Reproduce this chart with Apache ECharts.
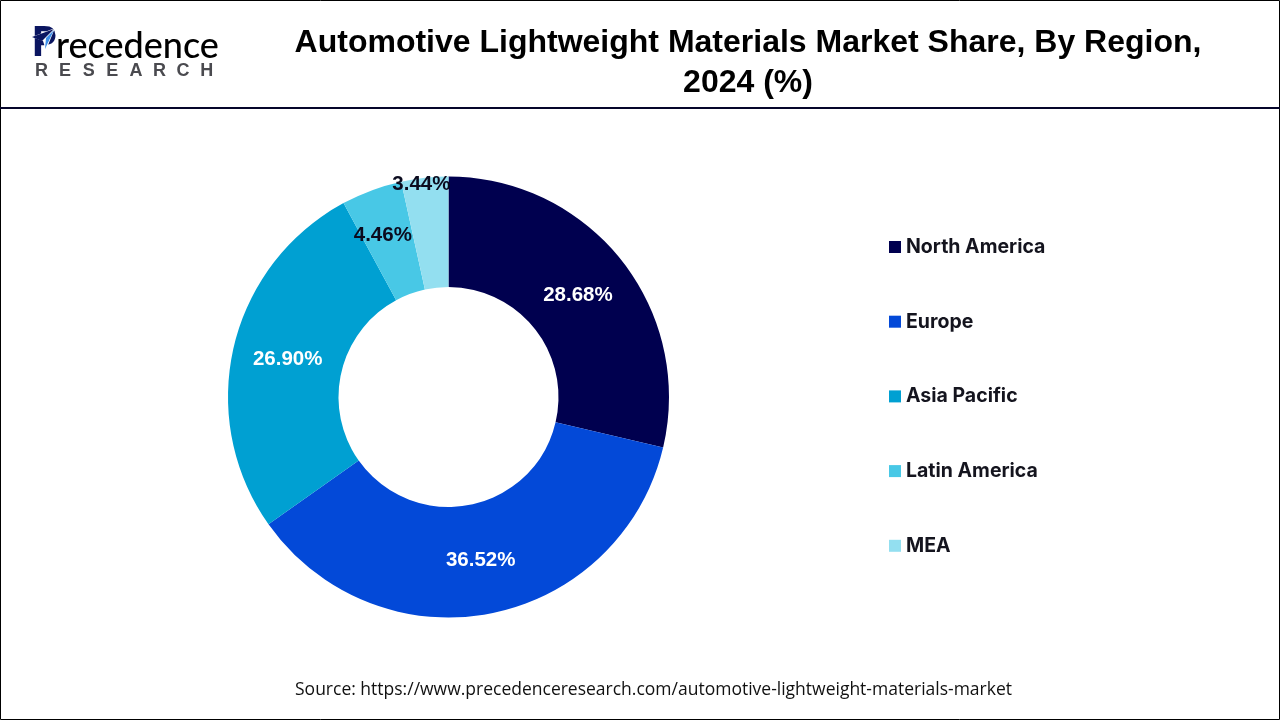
<!DOCTYPE html>
<html>
<head>
<meta charset="utf-8">
<style>
html, body { margin: 0; padding: 0; background: #fff; }
#chart_box { width: 1280px; height: 720px; }
</style>
<script src="https://cdn.jsdelivr.net/npm/echarts@6/dist/echarts.min.js"></script>
</head>
<body>
<div id="chart_box"></div>
<script>
let regions = ['North America', 'Europe', 'Asia Pacific', 'Latin America', 'MEA'];
let shares = [28.68, 36.52, 26.90, 4.46, 3.44];
let colors = ['#00004f', '#0349d8', '#00a0d2', '#48c8e6', '#93dff0'];
let labelColors = ['#fff', '#fff', '#fff', '#0b0b1e', '#0b0b1e'];
// labels sit off the mid radius in the original, the two small slices most of all
let labelOffsets = [[-2.5, 3], [0, -2], [3, 1], [-7, -4], [-9, -45]];

let titleLines = ['Automotive Lightweight Materials Market Share, By Region,', '2024 (%)'];
let sourceText = 'Source: https://www.precedenceresearch.com/automotive-lightweight-materials-market';

let myChart = echarts.init(document.getElementById('chart_box'));

// logo, letters spaced by hand
let logoGraphics = [];
'RESEARCH'.split('').forEach(function(ch, i) {
    logoGraphics.push({
        type: 'text',
        x: 41.5 + i * 23.6,
        y: 71,
        style: {
            text: ch, fill: '#4a4a4f', align: 'center', verticalAlign: 'middle',
            font: 'bold 18px "Liberation Sans"'
        }
    });
});
logoGraphics.push({
    type: 'text',
    x: 31,
    y: 44,
    style: {
        text: 'P', fill: '#0a1560', verticalAlign: 'middle',
        font: 'bold 42px "Open Sans"'
    }
});
logoGraphics.push({
    type: 'text',
    x: 56,
    y: 46,
    style: {
        text: 'recedence', verticalAlign: 'middle',
        font: '500 36px "Lato"',
        fill: new echarts.graphic.LinearGradient(0, 0, 1, 0, [
            {offset: 0, color: '#0a1a6e'},
            {offset: 1, color: '#1a66e0'}
        ])
    }
});
logoGraphics.push({
    type: 'polygon',
    shape: {points: [[32, 37], [55, 28], [46, 50], [43, 41]]},
    style: {fill: '#fff'}
});
logoGraphics.push({
    type: 'polygon',
    shape: {points: [[32, 37], [54, 29], [42, 41]]},
    style: {fill: '#0a1560'}
});
logoGraphics.push({
    type: 'polygon',
    shape: {points: [[54, 30], [46, 38], [45, 49]]},
    style: {fill: '#3d8fe8'}
});

let myOption = {
    animation: false,
    backgroundColor: '#fff',
    color: colors,
    legend: {
        orient: 'vertical',
        left: 884,
        top: 231,
        icon: 'rect',
        itemWidth: 12,
        itemHeight: 12,
        itemGap: 52.7,
        selectedMode: false,
        data: regions,
        textStyle: {
            fontFamily: 'Inter',
            fontWeight: 700,
            fontSize: 19.5,
            color: '#14141e',
            lineHeight: 22
        }
    },
    series: [{
        type: 'pie',
        center: [448.5, 397],
        radius: [110, 220.5],
        startAngle: 90,
        clockwise: true,
        silent: true,
        label: {
            position: 'inside',
            fontFamily: 'Liberation Sans',
            fontWeight: 'bold',
            fontSize: 20.5,
            formatter: function(p) {
                return p.value.toFixed(2) + '%';
            }
        },
        labelLine: {show: false},
        data: regions.map(function(name, i) {
            return {
                name: name,
                value: shares[i],
                label: {color: labelColors[i], offset: labelOffsets[i]}
            };
        })
    }],
    graphic: [
        {
            type: 'rect',
            shape: {x: 0.5, y: 0.5, width: 1279, height: 719},
            style: {fill: 'none', stroke: '#000', lineWidth: 1}
        },
        {
            type: 'rect',
            shape: {x: 0, y: 107, width: 1280, height: 2},
            style: {fill: '#05052a'}
        },
        {
            type: 'text',
            x: 748,
            y: 43,
            style: {
                text: titleLines[0], fill: '#000', align: 'center', verticalAlign: 'middle',
                font: 'bold 32px "Liberation Sans"'
            }
        },
        {
            type: 'text',
            x: 748,
            y: 83,
            style: {
                text: titleLines[1], fill: '#000', align: 'center', verticalAlign: 'middle',
                font: 'bold 32px "Liberation Sans"'
            }
        },
        {
            type: 'text',
            x: 653.5,
            y: 690,
            style: {
                text: sourceText, fill: '#111', align: 'center', verticalAlign: 'middle',
                font: '17.5px "Open Sans"'
            }
        }
    ].concat(logoGraphics)
};

myChart.setOption(myOption);
</script>
</body>
</html>
